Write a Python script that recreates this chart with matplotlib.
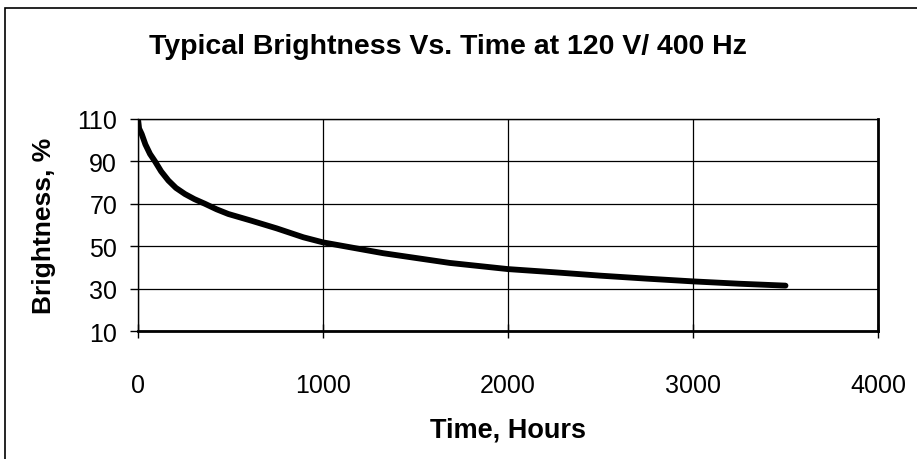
import matplotlib.pyplot as plt
from matplotlib.patches import Rectangle

# brightness curve
hours = [0, 6, 20, 40, 65, 92, 125, 164, 205, 254, 305, 362, 425, 488, 614,
         750, 894, 1000, 1325, 1686, 2000, 2250, 2500, 2750, 3000, 3250, 3500]
brightness = [110, 105.5, 102.9, 98, 93.5, 90, 85.3, 81, 77.5, 74.6, 72.2, 70,
              67.4, 65.2, 62, 58.4, 54.2, 51.8, 46.7, 42.1, 39.2, 37.7, 36.1,
              34.7, 33.4, 32.3, 31.4]

x_ticks = [0, 1000, 2000, 3000, 4000]
y_ticks = [10, 30, 50, 70, 90, 110]

plt.rcParams["font.family"] = ["Liberation Sans", "DejaVu Sans"]

fig = plt.figure(figsize=(9.17, 4.6), dpi=100)
ax = fig.add_axes([138 / 917, 1 - 332 / 460, 740 / 917, 212 / 460])

ax.plot(hours, brightness, color="black", linewidth=4.2,
        solid_capstyle="round", solid_joinstyle="round")

ax.set_xlim(0, 4000)
ax.set_ylim(10, 110)
ax.set_xticks(x_ticks)
ax.set_yticks(y_ticks)
ax.tick_params(axis="x", direction="inout", length=10, width=1, labelsize=18, pad=25)
ax.tick_params(axis="y", direction="out", length=6, width=1, labelsize=18, pad=9)
ax.grid(True, color="black", linewidth=0.9)
ax.set_axisbelow(True)

for side in ["top", "left"]:
    ax.spines[side].set_linewidth(1)
for side in ["bottom", "right"]:
    ax.spines[side].set_linewidth(2)

ax.set_xlabel("Time, Hours", fontsize=19.5, fontweight="bold", labelpad=14)
ax.set_ylabel("Brightness, %", fontsize=19, fontweight="bold", labelpad=15)
fig.text(448 / 917, 1 - 47 / 460, "Typical Brightness Vs. Time at 120 V/ 400 Hz",
         ha="center", va="center", fontsize=20.5, fontweight="bold")

# outer frame, its right and bottom edges run past the image
fig.patches.append(Rectangle((5 / 917, -0.05), 1.2, 1 - 9 / 460 + 0.05,
                             transform=fig.transFigure, fill=False,
                             edgecolor="black", linewidth=1.2))

fig.savefig("out.png", dpi=100)
